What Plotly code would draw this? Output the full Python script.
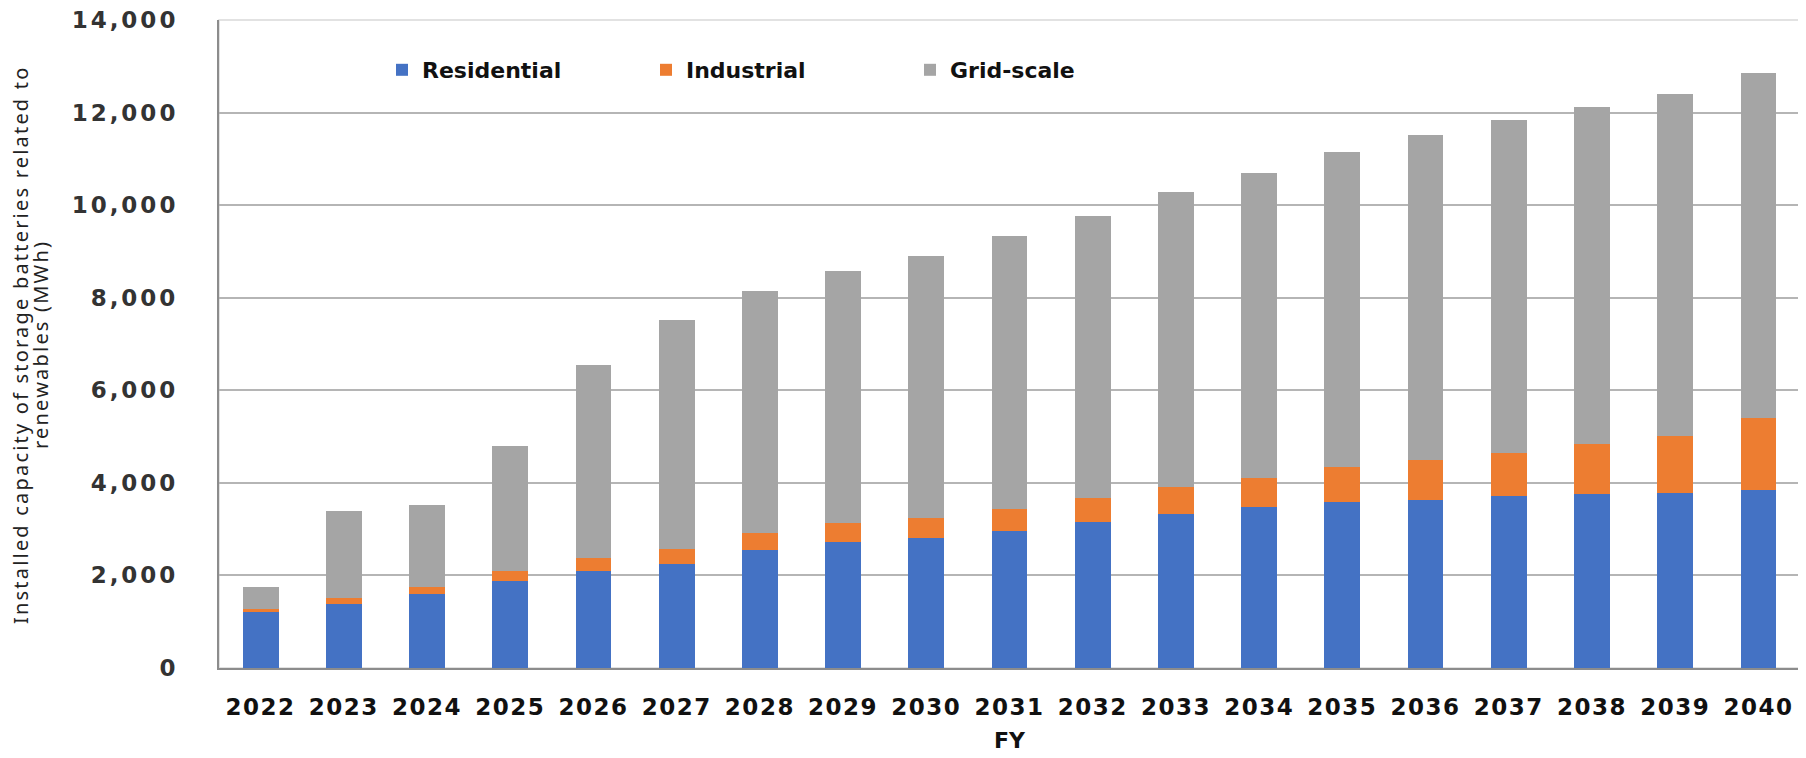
import plotly.graph_objects as go

years = [str(y) for y in range(2022, 2041)]
residential = [1210, 1390, 1600, 1870, 2085, 2250, 2560, 2720, 2800, 2965,
               3165, 3330, 3485, 3585, 3640, 3725, 3750, 3785, 3835]
industrial = [65, 130, 160, 215, 290, 325, 350, 410, 435, 460,
              515, 570, 615, 760, 855, 920, 1090, 1220, 1560]
grid_scale = [485, 1875, 1765, 2705, 4165, 4940, 5235, 5450, 5665, 5915,
              6090, 6390, 6605, 6795, 7025, 7205, 7280, 7395, 7450]
y_ticks = list(range(0, 14001, 2000))

series_names = ["Residential", "Industrial", "Grid-scale"]
series_colors = ["#4472C4", "#ED7D31", "#A5A5A5"]

fig = go.Figure()
for name, vals, col in zip(series_names, [residential, industrial, grid_scale], series_colors):
    fig.add_trace(go.Bar(x=years, y=vals, name=name, marker=dict(color=col, line=dict(width=0))))

# page body has an 8px margin: figure origin sits at (8, 8) in the window
OFF = 8
W, H = 1806 - OFF, 758 - OFF
ml, mr, mt, mb = 219 - OFF, 6, 20 - OFF, 90
pw = W - ml - mr
ph = H - mt - mb

def px_x(wx):
    return (wx - OFF - ml) / pw

def px_y(wy):
    return (H - mb - (wy - OFF)) / ph

def spaced(t, s):
    return "<span style='letter-spacing:%spx'>%s</span>" % (s, t)

fig.update_layout(
    width=W, height=H,
    barmode="stack", bargap=0.57,
    plot_bgcolor="white", paper_bgcolor="white",
    margin=dict(l=ml, r=mr, t=mt, b=mb, autoexpand=False),
    font=dict(family="DejaVu Sans", color="#111111"),
    legend=dict(
        orientation="h", x=px_x(382), y=px_y(70), xanchor="left", yanchor="middle",
        bgcolor="rgba(0,0,0,0)", font=dict(family="DejaVu Sans", size=22, weight="bold", color="#111111"),
        entrywidth=219, entrywidthmode="pixels", itemwidth=30, traceorder="normal",
    ),
    xaxis=dict(
        type="category", showgrid=False, showline=True, linecolor="#8C8C8C", linewidth=2,
        ticks="", ticklabelstandoff=17,
        tickvals=years, ticktext=[spaced(y, 1.5) for y in years],
        tickfont=dict(family="DejaVu Sans", size=23, weight="bold", color="#111111"),
    ),
    yaxis=dict(
        range=[0, 14000], tickvals=y_ticks,
        ticktext=[spaced(f"{v:,}", 3) for v in y_ticks],
        ticklabeloverflow="allow",
        showgrid=True, gridcolor="#B5B5B5", gridwidth=1.5,
        showline=True, linecolor="#8C8C8C", linewidth=2, zeroline=False,
        ticks="", ticklabelstandoff=34,
        tickfont=dict(family="DejaVu Sans", size=23, weight="bold", color="#333333"),
    ),
    annotations=[
        dict(text=spaced("Installed capacity of storage batteries related to", 2.2),
             xref="paper", yref="paper", x=px_x(20), y=px_y(345),
             xanchor="center", yanchor="middle", textangle=-90, showarrow=False,
             font=dict(family="Noto Sans", size=20, color="#222222")),
        dict(text=spaced("renewables (MWh)", 2.2),
             xref="paper", yref="paper", x=px_x(40), y=px_y(345),
             xanchor="center", yanchor="middle", textangle=-90, showarrow=False,
             font=dict(family="Noto Sans", size=20, color="#222222")),
        dict(text="FY", xref="paper", yref="paper", x=0.5, y=px_y(740),
             xanchor="center", yanchor="middle", showarrow=False,
             font=dict(family="DejaVu Sans", size=22, weight="bold", color="#111111")),
    ],
    shapes=[dict(type="rect", xref="x domain", yref="y domain", x0=0, x1=1, y0=0, y1=1,
                 line=dict(color="#D9D9D9", width=1.5), layer="below")],
)

fig.write_html("out.html")
